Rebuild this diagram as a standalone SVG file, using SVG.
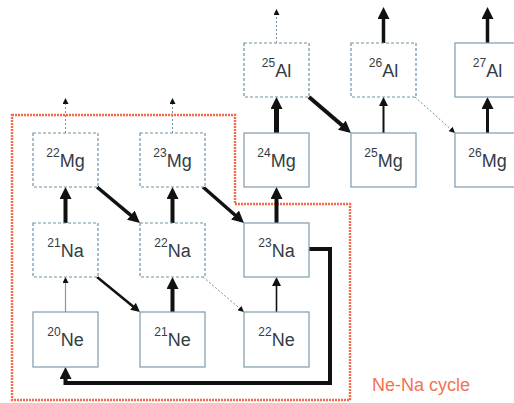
<svg xmlns="http://www.w3.org/2000/svg" width="514" height="403" viewBox="0 0 514 403">
<defs>
<style>
.box{fill:#fff;stroke:#7d9cab;stroke-width:1.2}
.dbox{fill:#fff;stroke:#6c93a8;stroke-width:1.2;stroke-dasharray:3,2}
.lbl{font-family:"Liberation Sans",Arial,sans-serif;fill:#333c44;text-anchor:middle}
.sup{font-size:12px}
.main{font-size:18px}
.a{stroke:#111;fill:none}
.thin{stroke:#6c93a8;stroke-width:1;stroke-dasharray:2,2;fill:none}
.gray{stroke:#7d9cab;stroke-width:1.2;fill:none}
</style>
<marker id="big" markerUnits="userSpaceOnUse" markerWidth="12" markerHeight="12" viewBox="0 0 12 12" refX="6" refY="6" orient="auto"><path d="M0,0 L12,6 L0,12 z" fill="#111"/></marker>
<marker id="med" markerUnits="userSpaceOnUse" markerWidth="9" markerHeight="9" viewBox="0 0 9 9" refX="4.5" refY="4.5" orient="auto"><path d="M0,0 L9,4.5 L0,9 z" fill="#111"/></marker>
<marker id="sm" markerUnits="userSpaceOnUse" markerWidth="6" markerHeight="6" viewBox="0 0 6 6" refX="3" refY="3" orient="auto"><path d="M0,0 L6,3 L0,6 z" fill="#111"/></marker>
</defs>
<rect width="514" height="403" fill="#fff"/>
<polygon points="12,115 235,115 235,204 350,204 350,400 12,400" fill="none" stroke="#f26b4f" stroke-width="2.4" stroke-dasharray="2,1"/>
<text x="372" y="391" font-family="'Liberation Sans',Arial,sans-serif" font-size="18" fill="#f27355">Ne-Na cycle</text>
<g id="connectors">
<line class="thin" x1="65.5" y1="133" x2="65.5" y2="101" marker-end="url(#sm)"/>
<line class="thin" x1="172.5" y1="133" x2="172.5" y2="101" marker-end="url(#sm)"/>
<line class="thin" x1="276.5" y1="43" x2="276.5" y2="12" marker-end="url(#sm)"/>
<line class="a" stroke-width="3.5" x1="383.5" y1="43" x2="383.5" y2="13" marker-end="url(#big)"/>
<line class="a" stroke-width="3.5" x1="487.5" y1="43" x2="487.5" y2="13" marker-end="url(#big)"/>
<line class="a" stroke-width="5" x1="276.5" y1="133" x2="276.5" y2="103" marker-end="url(#big)"/>
<line class="a" stroke-width="4" x1="309" y1="97" x2="346.4" y2="129.1" marker-end="url(#big)"/>
<line class="a" stroke-width="2" x1="383.5" y1="133" x2="383.5" y2="101.5" marker-end="url(#med)"/>
<line class="thin" x1="415" y1="97" x2="452.8" y2="131" marker-end="url(#sm)"/>
<line class="a" stroke-width="3" x1="487.5" y1="133" x2="487.5" y2="103" marker-end="url(#big)"/>
<line class="a" stroke-width="4" x1="65.5" y1="223" x2="65.5" y2="193" marker-end="url(#big)"/>
<line class="a" stroke-width="3.5" x1="97" y1="187" x2="135.4" y2="219.1" marker-end="url(#big)"/>
<line class="a" stroke-width="4" x1="172.5" y1="223" x2="172.5" y2="193" marker-end="url(#big)"/>
<line class="a" stroke-width="3.5" x1="203" y1="187" x2="239.5" y2="219" marker-end="url(#big)"/>
<line class="a" stroke-width="4" x1="276.5" y1="223" x2="276.5" y2="193" marker-end="url(#big)"/>
<line class="gray" x1="65.5" y1="312" x2="65.5" y2="280" marker-end="url(#sm)"/>
<line class="a" stroke-width="2.5" x1="97" y1="277" x2="136.5" y2="309.2" marker-end="url(#med)"/>
<line class="a" stroke-width="4" x1="172.5" y1="312" x2="172.5" y2="283" marker-end="url(#big)"/>
<line class="thin" x1="203" y1="277" x2="241.7" y2="310.1" marker-end="url(#sm)"/>
<line class="a" stroke-width="1.6" x1="276.5" y1="312" x2="276.5" y2="281.5" marker-end="url(#med)"/>
<path class="a" stroke-width="4" d="M309,249 H330 V383 H65.5 V373" marker-end="url(#big)"/>
</g>
<g id="n25Al"><rect class="dbox" x="244" y="43" width="65" height="54"/><text class="lbl" x="276.5" y="77"><tspan class="sup" dy="-10">25</tspan><tspan class="main" dy="10">Al</tspan></text></g>
<g id="n26Al"><rect class="dbox" x="351" y="43" width="65" height="54"/><text class="lbl" x="383.5" y="77"><tspan class="sup" dy="-10">26</tspan><tspan class="main" dy="10">Al</tspan></text></g>
<g id="n27Al"><rect class="box" x="455" y="43" width="65" height="54"/><text class="lbl" x="487.5" y="77"><tspan class="sup" dy="-10">27</tspan><tspan class="main" dy="10">Al</tspan></text></g>
<g id="n22Mg"><rect class="dbox" x="33" y="133" width="65" height="54"/><text class="lbl" x="65.5" y="167"><tspan class="sup" dy="-10">22</tspan><tspan class="main" dy="10">Mg</tspan></text></g>
<g id="n23Mg"><rect class="dbox" x="140" y="133" width="65" height="54"/><text class="lbl" x="172.5" y="167"><tspan class="sup" dy="-10">23</tspan><tspan class="main" dy="10">Mg</tspan></text></g>
<g id="n24Mg"><rect class="box" x="244" y="133" width="65" height="54"/><text class="lbl" x="276.5" y="167"><tspan class="sup" dy="-10">24</tspan><tspan class="main" dy="10">Mg</tspan></text></g>
<g id="n25Mg"><rect class="box" x="351" y="133" width="65" height="54"/><text class="lbl" x="383.5" y="167"><tspan class="sup" dy="-10">25</tspan><tspan class="main" dy="10">Mg</tspan></text></g>
<g id="n26Mg"><rect class="box" x="455" y="133" width="65" height="54"/><text class="lbl" x="487.5" y="167"><tspan class="sup" dy="-10">26</tspan><tspan class="main" dy="10">Mg</tspan></text></g>
<g id="n21Na"><rect class="dbox" x="33" y="223" width="65" height="54"/><text class="lbl" x="65.5" y="257"><tspan class="sup" dy="-10">21</tspan><tspan class="main" dy="10">Na</tspan></text></g>
<g id="n22Na"><rect class="dbox" x="140" y="223" width="65" height="54"/><text class="lbl" x="172.5" y="257"><tspan class="sup" dy="-10">22</tspan><tspan class="main" dy="10">Na</tspan></text></g>
<g id="n23Na"><rect class="box" x="244" y="223" width="65" height="54"/><text class="lbl" x="276.5" y="257"><tspan class="sup" dy="-10">23</tspan><tspan class="main" dy="10">Na</tspan></text></g>
<g id="n20Ne"><rect class="box" x="33" y="312" width="65" height="55"/><text class="lbl" x="65.5" y="346"><tspan class="sup" dy="-10">20</tspan><tspan class="main" dy="10">Ne</tspan></text></g>
<g id="n21Ne"><rect class="box" x="140" y="312" width="65" height="55"/><text class="lbl" x="172.5" y="346"><tspan class="sup" dy="-10">21</tspan><tspan class="main" dy="10">Ne</tspan></text></g>
<g id="n22Ne"><rect class="box" x="244" y="312" width="65" height="55"/><text class="lbl" x="276.5" y="346"><tspan class="sup" dy="-10">22</tspan><tspan class="main" dy="10">Ne</tspan></text></g>
</svg>
